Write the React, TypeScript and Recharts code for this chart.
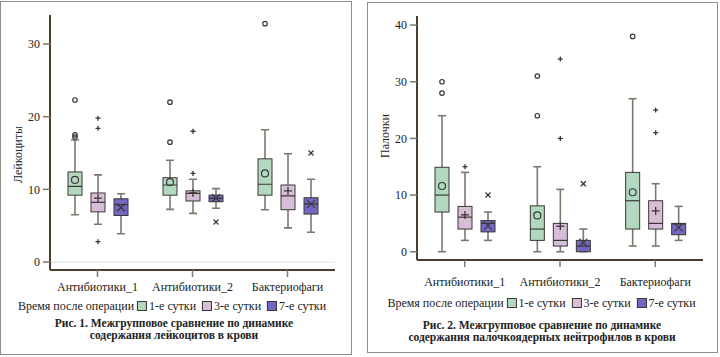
import { ComposedChart, Bar, XAxis, YAxis, CartesianGrid } from "recharts";

const FONT = '"Liberation Serif", "Times New Roman", serif';

const groups = ["Антибиотики_1", "Антибиотики_2", "Бактериофаги"];
const periods = ["1-е сутки", "3-е сутки", "7-е сутки"];

// [min, q1, median, q3, max] for each group
const leukDay1 = [[6.5, 9.2, 10.4, 12.4, 16.8], [7.25, 9.2, 10.6, 11.6, 14.0], [7.2, 9.2, 10.7, 14.2, 18.2]];
const leukDay3 = [[5.2, 6.9, 8.2, 9.5, 12.0], [6.7, 8.4, 9.45, 9.8, 11.4], [4.7, 7.2, 9.1, 10.6, 14.9]];
const leukDay7 = [[3.9, 6.4, 7.9, 8.7, 9.4], [7.4, 8.3, 8.75, 9.2, 10.1], [4.1, 6.6, 8.0, 8.85, 11.4]];
const leukMeans = [[11.3, 11.0, 12.2], [8.8, 9.5, 9.8], [7.5, 8.8, 8.0]];
const leukOutliers = [
  [[22.3, 17.5, 17.2], [22.0, 16.5], [32.8]],
  [[19.8, 18.4, 2.8], [18.0, 12.2], []],
  [[], [5.5], [15.0]],
];

const bandDay1 = [[0, 7, 10, 14.9, 24], [0, 2, 4, 8.1, 15], [1, 4, 9, 14, 27]];
const bandDay3 = [[2, 4, 6.1, 8, 14], [0, 1, 2, 5, 11], [1, 4, 5, 9, 12]];
const bandDay7 = [[2, 3.5, 5, 5.5, 7], [0, 0, 1, 2, 4], [2, 3, 4.9, 5, 8]];
const bandMeans = [[11.6, 6.4, 10.5], [6.5, 4.5, 7.2], [4.6, 1.6, 4.3]];
const bandOutliers = [
  [[30, 28], [31, 24], [38]],
  [[15], [34, 20], [25, 21]],
  [[10], [12], []],
];

const FILLS = ["#b3d8c0", "#d8bdd8", "#7467c3"];
const MARKERS = ["circle", "plus", "cross"];
const BOX_STROKE = "#3a3835";
const WHISKER = "#7f776c";
const AXIS = "#4a3f30";

function buildRows(boxes: number[][][], means: number[][], outliers: number[][][]) {
  return groups.map((g, i) => {
    const row: any = { group: g };
    boxes.forEach((b, k) => {
      const [min, q1, median, q3, max] = b[i];
      row["s" + k] = { min, q1, median, q3, max, mean: means[k][i], out: outliers[k][i] };
    });
    return row;
  });
}

const leukRows = buildRows([leukDay1, leukDay3, leukDay7], leukMeans, leukOutliers);
const bandRows = buildRows([bandDay1, bandDay3, bandDay7], bandMeans, bandOutliers);

function Marker({ type, cx, cy, size }: { type: string; cx: number; cy: number; size: number }) {
  if (type === "circle") {
    return <circle cx={cx} cy={cy} r={size / 2} fill="none" stroke={BOX_STROKE} strokeWidth={1.2} />;
  }
  const h = size / 2;
  if (type === "plus") {
    return (
      <g stroke={BOX_STROKE} strokeWidth={1.3}>
        <line x1={cx - h} y1={cy} x2={cx + h} y2={cy} />
        <line x1={cx} y1={cy - h} x2={cx} y2={cy + h} />
      </g>
    );
  }
  return (
    <g stroke={BOX_STROKE} strokeWidth={1.3}>
      <line x1={cx - h} y1={cy - h} x2={cx + h} y2={cy + h} />
      <line x1={cx - h} y1={cy + h} x2={cx + h} y2={cy - h} />
    </g>
  );
}

function BoxShape(props: any) {
  const { x, y, width, height, payload, idx } = props;
  const s = payload["s" + idx];
  if (!s) return null;
  const k = height / (s.max - s.min);
  const py = (v: number) => y + (s.max - v) * k;
  const cx = x + width / 2;
  const type = MARKERS[idx];
  return (
    <g>
      <line x1={cx} y1={py(s.max)} x2={cx} y2={py(s.min)} stroke={WHISKER} strokeWidth={1.6} />
      <line x1={cx - 4} y1={py(s.max)} x2={cx + 4} y2={py(s.max)} stroke={WHISKER} strokeWidth={1.6} />
      <line x1={cx - 4} y1={py(s.min)} x2={cx + 4} y2={py(s.min)} stroke={WHISKER} strokeWidth={1.6} />
      <rect
        x={x}
        y={py(s.q3)}
        width={width}
        height={Math.max(py(s.q1) - py(s.q3), 1)}
        fill={FILLS[idx]}
        stroke={BOX_STROKE}
        strokeWidth={1}
      />
      <line x1={x} y1={py(s.median)} x2={x + width} y2={py(s.median)} stroke={BOX_STROKE} strokeWidth={1.2} />
      <Marker type={type} cx={cx} cy={py(s.mean)} size={type === "circle" ? 7 : 8} />
      {s.out.map((v: number, j: number) => (
        <Marker key={j} type={type} cx={cx} cy={py(v)} size={type === "circle" ? 4.5 : 5} />
      ))}
    </g>
  );
}

function BoxChart({
  rows,
  width,
  height,
  margin,
  domain,
  ticks,
  yLabel,
  labelDy,
  xTickMargin,
  grid,
}: any) {
  const tickStyle = { fill: "#222", fontSize: 12, fontFamily: FONT };
  return (
    <ComposedChart width={width} height={height} data={rows} margin={margin} barGap={9}>
      {grid && (
        <CartesianGrid vertical={false} horizontalValues={[0]} stroke="#e2e2e2" strokeWidth={1.2} />
      )}
      <XAxis
        dataKey="group"
        type="category"
        interval={0}
        tickSize={7}
        tickMargin={xTickMargin}
        axisLine={{ stroke: AXIS, strokeWidth: 2 }}
        tickLine={{ stroke: WHISKER, strokeWidth: 1.5 }}
        tick={tickStyle}
      />
      <YAxis
        type="number"
        domain={domain}
        ticks={ticks}
        allowDataOverflow
        width={50}
        tickSize={7}
        tickMargin={3}
        axisLine={{ stroke: AXIS, strokeWidth: 2 }}
        tickLine={{ stroke: WHISKER, strokeWidth: 1.5 }}
        tick={tickStyle}
        label={{
          content: (p: any) => {
            const vb = p.viewBox;
            const lx = vb.x + 18;
            const ly = vb.y + vb.height / 2 + labelDy;
            return (
              <text
                x={lx}
                y={ly}
                transform={`rotate(-90, ${lx}, ${ly})`}
                textAnchor="middle"
                dominantBaseline="central"
                fontSize={12}
                fontFamily={FONT}
                fill="#222"
              >
                {yLabel}
              </text>
            );
          },
        }}
      />
      {periods.map((p, idx) => (
        <Bar
          key={p}
          name={p}
          dataKey={(r: any) => [r["s" + idx].min, r["s" + idx].max]}
          barSize={14}
          isAnimationActive={false}
          shape={(sp: any) => <BoxShape {...sp} idx={idx} />}
        />
      ))}
    </ComposedChart>
  );
}

function LegendRow({ center, top }: { center: number; top: number }) {
  return (
    <div
      style={{
        position: "absolute",
        left: center,
        top,
        transform: "translateX(-50%)",
        display: "flex",
        alignItems: "center",
        whiteSpace: "nowrap",
        fontSize: 12,
        lineHeight: "14px",
        color: "#222",
      }}
    >
      <span>Время после операции</span>
      {periods.map((p, i) => (
        <span key={p} style={{ display: "flex", alignItems: "center" }}>
          <span
            style={{
              display: "inline-block",
              width: 8,
              height: 8,
              background: FILLS[i],
              border: `1px solid ${BOX_STROKE}`,
              marginLeft: i === 0 ? 3 : 6,
              marginRight: 2,
            }}
          />
          <span>{p}</span>
        </span>
      ))}
    </div>
  );
}

function Caption({ left, top, lines }: { left: number; top: number; lines: string[] }) {
  return (
    <div
      style={{
        position: "absolute",
        left,
        top,
        width: 348,
        textAlign: "center",
        fontWeight: "bold",
        fontSize: 11.5,
        lineHeight: "12px",
        color: "#222",
      }}
    >
      {lines.map((l) => (
        <div key={l}>{l}</div>
      ))}
    </div>
  );
}

export default function App() {
  return (
    <div
      style={{
        position: "absolute",
        left: 0,
        top: 0,
        width: 720,
        height: 357,
        background: "#fff",
        fontFamily: FONT,
        overflow: "hidden",
      }}
    >
      <div
        style={{
          position: "absolute",
          left: 0,
          top: 1,
          width: 350,
          height: 352,
          border: "1.5px solid #918d87",
        }}
      />
      <div
        style={{
          position: "absolute",
          left: 367,
          top: 2,
          width: 349,
          height: 349,
          border: "1.5px solid #918d87",
        }}
      />
      <div style={{ position: "absolute", left: 0, top: 0 }}>
        <BoxChart
          rows={leukRows}
          width={352}
          height={300}
          margin={{ top: 15, right: 17, bottom: 0, left: 0 }}
          domain={[-1.1, 34]}
          ticks={[0, 10, 20, 30]}
          yLabel="Лейкоциты"
          labelDy={12}
          xTickMargin={5}
          grid
        />
      </div>
      <div style={{ position: "absolute", left: 360, top: 0 }}>
        <BoxChart
          rows={bandRows}
          width={360}
          height={290}
          margin={{ top: 16, right: 17, bottom: 0, left: 7 }}
          domain={[-1.46, 41.6]}
          ticks={[0, 10, 20, 30, 40]}
          yLabel="Палочки"
          labelDy={-2}
          xTickMargin={10}
          grid={false}
        />
      </div>
      <LegendRow center={172} top={299} />
      <LegendRow center={541.5} top={296} />
      <Caption
        left={0}
        top={317}
        lines={["Рис. 1. Межгрупповое сравнение по динамике", "содержания лейкоцитов в крови"]}
      />
      <Caption
        left={368}
        top={319}
        lines={["Рис. 2. Межгрупповое сравнение по динамике", "содержания палочкоядерных нейтрофилов в крови"]}
      />
    </div>
  );
}
